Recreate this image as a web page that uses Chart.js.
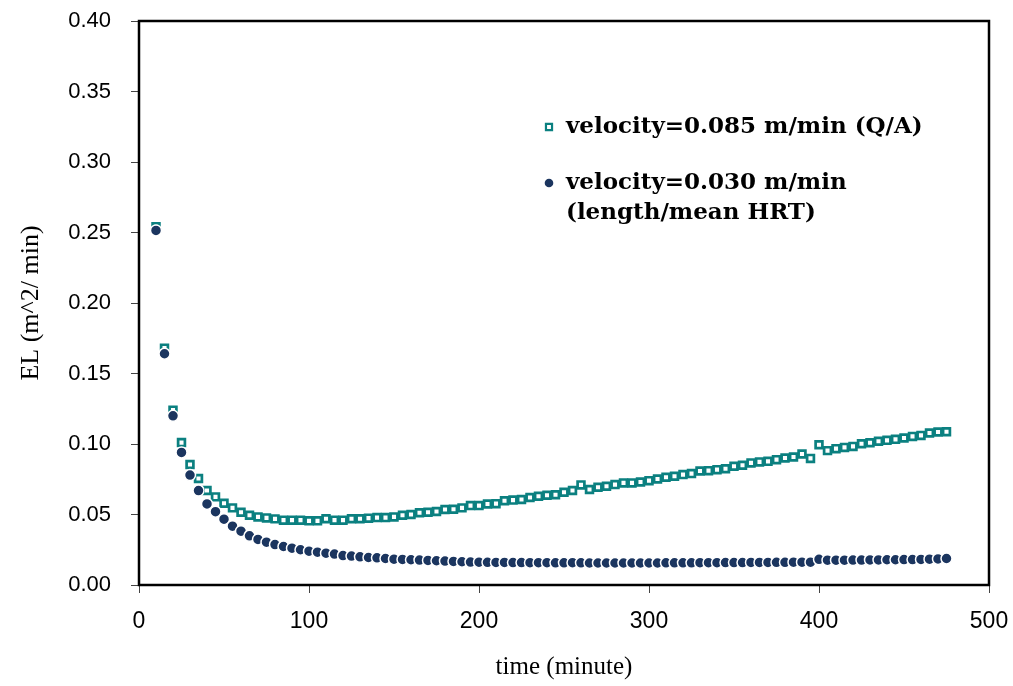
<!DOCTYPE html>
<html lang="en">
<head>
    <meta charset="UTF-8">
    <title>EL vs time</title>
    <script src="https://cdn.jsdelivr.net/npm/chart.js@4.4.1/dist/chart.umd.min.js"></script>
    <style>
        html, body { margin: 0; padding: 0; background: #fff; }
        #wrap { width: 1013px; height: 686px; }
    </style>
</head>
<body>
    <div id="wrap"><canvas id="elChart" width="1013" height="686"></canvas></div>

    <script>
        // time (minute), one reading every 5 minutes
        const times = [
            10, 15, 20, 25, 30, 35, 40, 45, 50, 55, 60, 65, 70, 75, 80, 85, 90, 95, 100, 105,
            110, 115, 120, 125, 130, 135, 140, 145, 150, 155, 160, 165, 170, 175, 180, 185, 190, 195, 200, 205,
            210, 215, 220, 225, 230, 235, 240, 245, 250, 255, 260, 265, 270, 275, 280, 285, 290, 295, 300, 305,
            310, 315, 320, 325, 330, 335, 340, 345, 350, 355, 360, 365, 370, 375, 380, 385, 390, 395, 400, 405,
            410, 415, 420, 425, 430, 435, 440, 445, 450, 455, 460, 465, 470, 475
        ];

        // EL (m^2/min) at velocity 0.085 m/min (Q/A)
        const elQA = [
            0.254, 0.168, 0.124, 0.101, 0.0855, 0.0755, 0.067, 0.0625, 0.058, 0.0547,
            0.0516, 0.0495, 0.0483, 0.0476, 0.0469, 0.046, 0.046, 0.046, 0.0455, 0.0455,
            0.047, 0.046, 0.046, 0.047, 0.047, 0.0474, 0.0478, 0.0478, 0.0483, 0.0495,
            0.05, 0.0512, 0.0516, 0.0521, 0.0535, 0.0537, 0.0547, 0.0563, 0.0563, 0.0575,
            0.0577, 0.0597, 0.0602, 0.0606, 0.062, 0.063, 0.0637, 0.064, 0.0658, 0.067,
            0.071, 0.0677, 0.0693, 0.07, 0.0712, 0.0724, 0.0724, 0.0731, 0.074, 0.0752,
            0.0764, 0.0771, 0.0783, 0.079, 0.0809, 0.0811, 0.0818, 0.0825, 0.0842, 0.0849,
            0.0866, 0.0873, 0.0877, 0.0889, 0.0901, 0.0908, 0.0929, 0.0898, 0.0995, 0.0953,
            0.0967, 0.0976, 0.0983, 0.1002, 0.1009, 0.1019, 0.1026, 0.1033, 0.1043, 0.1054,
            0.1061, 0.1078, 0.1085, 0.1087
        ];

        // EL (m^2/min) at velocity 0.030 m/min (length/mean HRT)
        const elHRT = [
            0.2515, 0.164, 0.12, 0.094, 0.078, 0.067, 0.0575, 0.052, 0.0467, 0.0417,
            0.0382, 0.0349, 0.0323, 0.0304, 0.0287, 0.0273, 0.0261, 0.025, 0.024, 0.0233,
            0.0226, 0.0219, 0.0209, 0.0205, 0.02, 0.0195, 0.0193, 0.0188, 0.0183, 0.0181,
            0.0179, 0.0177, 0.0174, 0.0172, 0.017, 0.0167, 0.0165, 0.0163, 0.0162, 0.0161,
            0.016, 0.016, 0.0159, 0.0159, 0.0158, 0.0158, 0.0158, 0.0157, 0.0157, 0.0158,
            0.0157, 0.0156, 0.0156, 0.0156, 0.0156, 0.0156, 0.0156, 0.0156, 0.0156, 0.0156,
            0.0157, 0.0157, 0.0157, 0.0157, 0.0158, 0.0158, 0.0158, 0.0159, 0.0159, 0.0159,
            0.016, 0.016, 0.016, 0.0161, 0.0161, 0.0162, 0.0162, 0.0162, 0.0182, 0.0176,
            0.0176, 0.0176, 0.0177, 0.0177, 0.0178, 0.0178, 0.0179, 0.0179, 0.018, 0.018,
            0.0181, 0.0183, 0.0185, 0.0188
        ];

        const legendLines = [
            ['velocity=0.085 m/min (Q/A)'],
            ['velocity=0.030 m/min', '(length/mean HRT)']
        ];
        const xTitle = 'time (minute)';
        const yTitle = 'EL (m^2/ min)';

        const TEAL = '#0b8080';
        const NAVY = '#1b355f';

        const toPoints = (ys) => times.map((t, i) => ({ x: t, y: ys[i] }));

        // frame round the plot area
        const framePlugin = {
            id: 'frame',
            afterDatasetsDraw(chart) {
                const { ctx, chartArea: a } = chart;
                ctx.save();
                ctx.strokeStyle = '#000';
                ctx.lineWidth = 2.5;
                ctx.strokeRect(a.left, a.top, a.right - a.left, a.bottom - a.top);
                ctx.restore();
            }
        };

        // legend inside the plot, like the original
        const legendPlugin = {
            id: 'insideLegend',
            afterDraw(chart) {
                const ctx = chart.ctx;
                const markX = 549, textX = 566;
                const rows = [[127], [183, 213]];
                ctx.save();
                ctx.textBaseline = 'middle';
                legendLines.forEach((lines, i) => {
                    const ds = chart.data.datasets[i];
                    const isRect = ds.pointStyle === 'rect';
                    ctx.fillStyle = ds.backgroundColor;
                    ctx.strokeStyle = ds.borderColor;
                    ctx.lineWidth = isRect ? 2.2 : 0;
                    Chart.helpers.drawPoint(ctx, {
                        pointStyle: ds.pointStyle,
                        radius: 4.3,
                        borderWidth: isRect ? 2.2 : 0
                    }, markX, rows[i][0]);
                    ctx.fillStyle = '#000';
                    ctx.font = 'bold 23px "DejaVu Serif"';
                    lines.forEach((txt, j) => ctx.fillText(txt, textX, rows[i][j]));
                });
                ctx.restore();
            }
        };

        const ctx = document.getElementById('elChart').getContext('2d');
        new Chart(ctx, {
            type: 'scatter',
            data: {
                datasets: [
                    {
                        label: legendLines[0].join(' '),
                        data: toPoints(elQA),
                        pointStyle: 'rect',
                        pointRadius: 4.8,
                        pointBorderWidth: 2.7,
                        borderColor: TEAL,
                        backgroundColor: '#fff',
                        order: 2
                    },
                    {
                        label: legendLines[1].join(' '),
                        data: toPoints(elHRT),
                        pointStyle: 'circle',
                        pointRadius: 5.5,
                        pointBorderWidth: 1.5,
                        borderColor: '#fff',
                        backgroundColor: NAVY,
                        order: 1
                    }
                ]
            },
            options: {
                responsive: false,
                animation: false,
                events: [],
                layout: { padding: { left: 0, top: 21, right: 24, bottom: 0 } },
                plugins: {
                    legend: { display: false },
                    tooltip: { enabled: false }
                },
                scales: {
                    x: {
                        type: 'linear',
                        min: 0,
                        max: 500,
                        afterFit(scale) {
                            scale.height = 101;
                            scale.paddingLeft = 0;
                            scale.paddingRight = 0;
                        },
                        border: { display: false },
                        grid: { drawOnChartArea: false, tickLength: 8, tickColor: '#444', tickWidth: 1 },
                        ticks: {
                            stepSize: 100,
                            padding: 15,
                            color: '#000',
                            font: { family: '"Liberation Sans", Arial', size: 23 }
                        },
                        title: {
                            display: true,
                            text: xTitle,
                            color: '#000',
                            padding: { top: 8 },
                            font: { family: '"Liberation Serif", "Times New Roman"', size: 25 }
                        }
                    },
                    y: {
                        min: 0,
                        max: 0.4,
                        afterFit(scale) {
                            scale.width = 139;
                            scale.paddingTop = 0;
                            scale.paddingBottom = 0;
                        },
                        border: { display: false },
                        grid: { drawOnChartArea: false, tickLength: 8, tickColor: '#444', tickWidth: 1 },
                        ticks: {
                            stepSize: 0.05,
                            padding: 20,
                            color: '#000',
                            font: { family: '"Liberation Sans", Arial', size: 22 },
                            callback: (v) => v.toFixed(2)
                        },
                        title: {
                            display: true,
                            text: yTitle,
                            color: '#000',
                            padding: { top: 16, bottom: 0 },
                            font: { family: '"Liberation Serif", "Times New Roman"', size: 26 }
                        }
                    }
                }
            },
            plugins: [framePlugin, legendPlugin]
        });
    </script>
</body>
</html>
